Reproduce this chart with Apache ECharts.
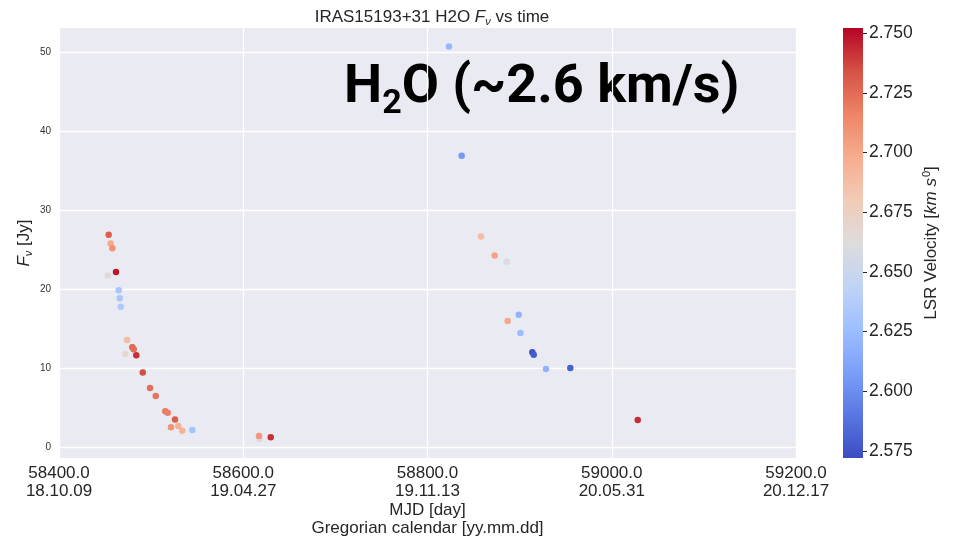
<!DOCTYPE html>
<html><head><meta charset="utf-8">
<script src="https://cdn.jsdelivr.net/npm/echarts@6/dist/echarts.min.js"></script>
<style>html,body{margin:0;padding:0;background:#fff}#c{width:953px;height:542px}</style>
</head><body><div id="c"></div>
<script>
// MJD [day]
const mjd = [58453.9, 58456.1, 58457.9, 58461.9, 58452.9, 58464.8, 58465.9, 58467.0, 58473.8, 58479.6,
  58481.1, 58472.0, 58483.9, 58490.9, 58498.8, 58505.0, 58515.4, 58518.0, 58525.9, 58521.6,
  58529.5, 58533.8, 58544.7, 58617.8, 58617.1, 58629.8, 58823.3, 58837.1, 58858.1, 58872.9,
  58886.0, 58899.0, 58887.0, 58900.8, 58913.8, 58915.3, 58928.6, 58955.0, 59028.2];
// F_nu [Jy]
const flux = [26.9, 25.8, 25.2, 22.2, 21.75, 19.9, 18.9, 17.8, 13.6, 12.7,
  12.45, 11.85, 11.7, 9.5, 7.55, 6.54, 4.6, 4.43, 3.55, 2.58,
  2.74, 2.15, 2.24, 1.1, 1.48, 1.31, 50.7, 36.9, 26.7, 24.3,
  23.5, 16.8, 16.0, 14.5, 12.06, 11.76, 9.95, 10.08, 3.5];
// LSR velocity [km/s]
const vlsr = [2.730, 2.700, 2.710, 2.748, 2.665, 2.632, 2.632, 2.635, 2.690, 2.728,
  2.725, 2.668, 2.742, 2.735, 2.724, 2.722, 2.720, 2.718, 2.730, 2.710,
  2.695, 2.694, 2.630, 2.665, 2.708, 2.742, 2.622, 2.605, 2.688, 2.702,
  2.660, 2.620, 2.700, 2.625, 2.575, 2.578, 2.620, 2.580, 2.743];

const xTicks = [58400, 58600, 58800, 59000, 59200];
const xTickDates = ['18.10.09', '19.04.27', '19.11.13', '20.05.31', '20.12.17'];
const yTicks = [0, 10, 20, 30, 40, 50];
const cbTicks = [2.575, 2.600, 2.625, 2.650, 2.675, 2.700, 2.725, 2.750];
const vMin = 2.572, vMax = 2.7522;
const coolwarm = ['#3b4cc0', '#5977e3', '#7b9ff9', '#9ebeff', '#c0d4f5', '#dddcdc',
  '#f2cbb7', '#f7ac8e', '#ee8468', '#d65244', '#b40426'];

const points = mjd.map((m, i) => [m, flux[i], vlsr[i]]);
const FONT = 'Liberation Sans';
const chart = echarts.init(document.getElementById('c'), null, {renderer: 'canvas'});

const gradStops = coolwarm.map((c, i) => ({offset: 1 - i / (coolwarm.length - 1), color: c}));

chart.setOption({
  backgroundColor: '#ffffff',
  animation: false,
  textStyle: {fontFamily: FONT},
  title: {
    text: 'IRAS15193+31 H2O {it|F}{sub|ν} vs time',
    left: 427, top: 3, textAlign: 'center',
    textStyle: {
      fontFamily: FONT, fontSize: 17, fontWeight: 'normal', color: '#262626',
      rich: {
        it: {fontFamily: FONT, fontSize: 17, fontStyle: 'italic', color: '#262626'},
        sub: {fontFamily: FONT, fontSize: 11, fontStyle: 'italic', color: '#262626', padding: [8, 0, 0, 0]}
      }
    }
  },
  grid: [
    {left: 59, top: 28, width: 737, height: 430, backgroundColor: '#eaeaf2', show: true, borderWidth: 0,
      outerBoundsMode: 'none', containLabel: false},
    {left: 843, top: 28, width: 20, height: 430, show: false, outerBoundsMode: 'none', containLabel: false}
  ],
  xAxis: [
    {
      type: 'value', gridIndex: 0, min: 58400, max: 59200, interval: 200,
      axisLine: {show: false}, axisTick: {show: false},
      splitLine: {show: true, lineStyle: {color: '#ffffff', width: 1.3}},
      axisLabel: {
        fontFamily: FONT, fontSize: 17, color: '#262626', margin: 6, lineHeight: 18,
        formatter: v => {
          const i = xTicks.indexOf(v);
          return v.toFixed(1) + '\n' + (i >= 0 ? xTickDates[i] : '');
        }
      },
      name: 'MJD [day]\nGregorian calendar [yy.mm.dd]',
      nameLocation: 'middle', nameGap: 43, nameMoveOverlap: false,
      nameTextStyle: {fontFamily: FONT, fontSize: 17, color: '#262626', lineHeight: 18}
    },
    {type: 'category', gridIndex: 1, data: ['cb'], show: false}
  ],
  yAxis: [
    {
      type: 'value', gridIndex: 0, min: -1.3, max: 53.04,
      axisLine: {show: false},
      axisTick: {show: false, customValues: yTicks},
      splitLine: {show: true, lineStyle: {color: '#ffffff', width: 1.3}},
      axisLabel: {fontFamily: FONT, fontSize: 10, color: '#333333', margin: 8, customValues: yTicks},
      name: '{it|F}{sub|ν} [Jy]', nameLocation: 'middle', nameGap: 25, nameRotate: 90, nameMoveOverlap: false,
      nameTextStyle: {
        fontFamily: FONT, fontSize: 17, color: '#262626',
        rich: {
          it: {fontFamily: FONT, fontSize: 17, fontStyle: 'italic', color: '#262626'},
          sub: {fontFamily: FONT, fontSize: 11, fontStyle: 'italic', color: '#262626', padding: [9, 0, 0, 0]}
        }
      }
    },
    {
      type: 'value', gridIndex: 1, min: vMin, max: vMax, position: 'right',
      axisLine: {show: false},
      axisTick: {show: true, length: 4, lineStyle: {color: '#262626', width: 1}, customValues: cbTicks},
      splitLine: {show: false},
      axisLabel: {fontFamily: FONT, fontSize: 17.5, color: '#262626', margin: 6, customValues: cbTicks,
        formatter: v => v.toFixed(3)},
      name: 'LSR Velocity [{it|km s}{sup|0}]', nameLocation: 'middle', nameGap: 58, nameRotate: 90,
      nameTextStyle: {
        fontFamily: FONT, fontSize: 17, color: '#262626',
        rich: {
          it: {fontFamily: FONT, fontSize: 17, fontStyle: 'italic', color: '#262626'},
          sup: {fontFamily: FONT, fontSize: 11, color: '#262626', padding: [0, 0, 9, 1]}
        }
      }
    }
  ],
  visualMap: {
    show: false, type: 'continuous', seriesIndex: 0, dimension: 2,
    min: vMin, max: vMax, inRange: {color: coolwarm}
  },
  series: [
    {
      type: 'scatter', xAxisIndex: 0, yAxisIndex: 0, data: points,
      symbolSize: 6.5, itemStyle: {opacity: 1}
    },
    {
      type: 'custom', xAxisIndex: 1, yAxisIndex: 1, data: [[0, vMin, vMax]],
      renderItem: (params, api) => {
        const p0 = api.coord([api.value(0), api.value(1)]);
        const p1 = api.coord([api.value(0), api.value(2)]);
        const w = api.size([1, 0])[0];
        return {
          type: 'rect',
          shape: {x: p0[0] - w / 2, y: p1[1], width: w, height: p0[1] - p1[1]},
          style: {fill: new echarts.graphic.LinearGradient(0, 0, 0, 1, gradStops)}
        };
      }
    }
  ],
  graphic: [
    {
      type: 'text', left: 344, top: 61,
      style: {
        text: '{b|H}{s|2}{b|O (~2.6 km/s)}',
        rich: {
          b: {fontFamily: 'Roboto', fontSize: 54, fontWeight: 'bold', color: '#000000', lineHeight: 60, verticalAlign: 'top'},
          s: {fontFamily: 'Roboto', fontSize: 34, fontWeight: 'bold', color: '#000000', lineHeight: 38, verticalAlign: 'bottom'}
        }
      }
    }
  ]
});
</script></body></html>
